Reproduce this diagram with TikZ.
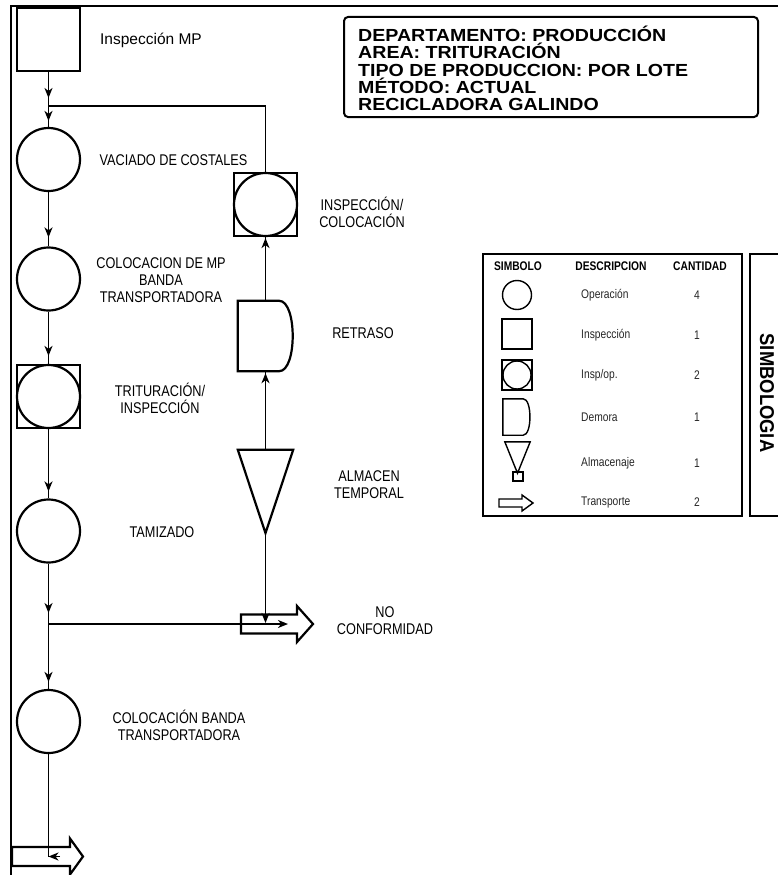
\documentclass[tikz,border=0pt]{standalone}
\usepackage{fontspec}
\setmainfont{Liberation Sans}
\newfontfamily\narrowfont[FakeStretch=0.82]{Liberation Sans}
\newfontfamily\hdrfont[FakeStretch=1.12]{Liberation Sans}
\newfontfamily\simbfont[FakeStretch=0.92]{Liberation Sans}
\usetikzlibrary{arrows.meta,decorations.markings,calc}
\begin{document}
\begin{tikzpicture}[x=1pt,y=-1pt,
  shp/.style={draw, line width=2.2pt, inner sep=0pt},
  opcirc/.style={shp, circle, minimum size=63pt},
  inspsq/.style={shp, rectangle, minimum size=63pt},
  ghost/.style={inner sep=0pt, rectangle},
  flow/.style={line width=1.7pt},
  tipend/.style={decoration={markings, mark=at position #1 with {\arrow{Stealth[length=10pt,width=8pt,inset=3pt]}}}, postaction={decorate}},
  endtip/.style={-{Stealth[length=10pt,width=8pt,inset=3pt]}},
  lbl/.style={font=\narrowfont\fontsize{15.5}{17}\selectfont, align=center, inner sep=0pt},
  lblr/.style={font=\fontsize{15.5}{17}\selectfont, inner sep=0pt},
  hdrtxt/.style={font=\hdrfont\bfseries\fontsize{17.5}{17}\selectfont, inner sep=0pt, anchor=base west},
  leghdr/.style={font=\narrowfont\bfseries\fontsize{12.5}{14}\selectfont, inner sep=0pt},
  legtxt/.style={font=\narrowfont\fontsize{12.5}{14}\selectfont, inner sep=0pt, text=black!85},
  legshp/.style={draw, line width=1.4pt, inner sep=0pt},
  legbox/.style={draw, line width=2pt, inner sep=0pt}
]
\useasboundingbox (0,0) rectangle (778,875);
% frame
\draw[line width=2pt] (11,876) -- (11,6) -- (779,6);

% main column
\node[inspsq] (insp) at (48.5,39.5) {};
\node[opcirc] (c1) at (48.5,159.5) {};
\node[opcirc] (c2) at (48.5,279) {};
\node[inspsq] (c3) at (48.5,396.5) {};
\node[opcirc] (c3i) at (48.5,396.5) {};
\node[opcirc] (c4) at (48.5,531) {};
\node[opcirc] (c5) at (48.5,721.5) {};

% right column
\node[inspsq] (c6) at (265.5,204.5) {};
\node[opcirc] (c6i) at (265.5,204.5) {};
\node[ghost, minimum width=55pt, minimum height=70pt] (ret) at (265.5,336) {};
\draw[shp] (ret.north west) -- ($(ret.north east)+(-14,0)$)
  .. controls ($(ret.north east)+(4,0)$) and ($(ret.south east)+(4,0)$) .. ($(ret.south east)+(-14,0)$)
  -- (ret.south west) -- cycle;
\node[ghost, minimum width=55pt, minimum height=83pt] (alm) at (265.5,491.5) {};
\draw[shp] (alm.north west) -- (alm.north east) -- (alm.south) -- cycle;

% transport arrows
\coordinate (nc) at (241,624);
\draw[shp] (nc) ++(0,-9.5) -- ++(56,0) -- ++(0,-8.5) -- ++(16,18) -- ++(-16,18) -- ++(0,-8.5) -- ++(-56,0) -- cycle;
\coordinate (ba) at (12,856.5);
\draw[shp] (ba) ++(0,-9.5) -- ++(58,0) -- ++(0,-8.5) -- ++(13,18) -- ++(-13,18) -- ++(0,-8.5) -- ++(-58,0) -- cycle;

% connectors
\coordinate (j1) at (48.5,106);
\coordinate (j2) at (48.5,624);
\coordinate (b1) at (48.5,856.5);
\coordinate (b2) at (60,856.5);
\coordinate (nct) at (288,624);
\coordinate (ncv) at (265.5,623);
\draw[flow, tipend=-8pt] (insp.south) -- (j1);
\draw[flow, tipend=-6pt] (j1) -- (c1.north);
\draw[flow] (c6.north) |- (j1);
\draw[flow, tipend=-9pt] (c1.south) -- (c2.north);
\draw[flow, tipend=-8pt] (c2.south) -- (c3.north);
\draw[flow, tipend=-7pt] (c3.south) -- (c4.north);
\draw[flow, tipend=-11pt] (c4.south) -- (j2);
\draw[flow, tipend=-7pt] (j2) -- (c5.north);
\draw[flow] (c5.south) -- (b1);
\draw[flow, endtip] (b2) -- (b1);
\draw[flow, endtip] (j2) -- (nct);
\draw[flow, endtip] (alm.south) -- (ncv);
\draw[flow, tipend=-2pt] (alm.north) -- (ret.south);
\draw[flow, tipend=-1pt] (ret.north) -- (c6.south);

% labels
\node[lblr] (tinsp) at (151,40) {Inspección MP};
\node[lbl] (t1) at (173.5,160) {VACIADO DE COSTALES};
\node[lbl] (t2) at (161,280) {COLOCACION DE MP\\BANDA\\TRANSPORTADORA};
\node[lbl] (t3) at (160,398) {TRITURACIÓN/\\INSPECCIÓN};
\node[lbl] (t4) at (162,532) {TAMIZADO};
\node[lbl] (t5) at (179,725) {COLOCACIÓN BANDA\\TRANSPORTADORA};
\node[lbl] (t6) at (362,212) {INSPECCIÓN/\\COLOCACIÓN};
\node[lbl] (t7) at (363,333) {RETRASO};
\node[lbl] (t8) at (369,485) {ALMACEN\\TEMPORAL};
\node[lbl] (t9) at (385,621) {NO\\CONFORMIDAD};

% header box
\node[draw, line width=2pt, rounded corners=4pt, minimum width=414pt, minimum height=100pt, inner sep=0pt] (hdr) at (551,67) {};
\node[hdrtxt] (h1) at (358,42) {DEPARTAMENTO: PRODUCCIÓN};
\node[hdrtxt] (h2) at (358,59) {AREA: TRITURACIÓN};
\node[hdrtxt] (h3) at (358,76) {TIPO DE PRODUCCION: POR LOTE};
\node[hdrtxt] (h4) at (358,93) {MÉTODO: ACTUAL};
\node[hdrtxt] (h5) at (358,110) {RECICLADORA GALINDO};

% legend
\node[legbox, minimum width=259pt, minimum height=262pt] (leg) at (612.5,385) {};
\node[legbox, minimum width=51pt, minimum height=262pt] (simb) at (775.5,385) {};
\node[font=\simbfont\bfseries\fontsize{20}{22}\selectfont, rotate=-90, inner sep=0pt] (simbt) at (767,393) {SIMBOLOGIA};

\node[leghdr] (lh1) at (518,266) {SIMBOLO};
\node[leghdr] (lh2) at (611,266) {DESCRIPCION};
\node[leghdr] (lh3) at (700,266) {CANTIDAD};

\node[legshp, circle, minimum size=29pt] (lg1) at (517,295) {};
\node[legshp, rectangle, minimum size=30pt] (lg2) at (517,334) {};
\node[legshp, rectangle, minimum size=30pt] (lg3) at (517,375) {};
\node[legshp, circle, minimum size=28pt] (lg3i) at (517,375) {};
\node[ghost, minimum width=27pt, minimum height=36pt] (lg4) at (516.5,417) {};
\draw[legshp] (lg4.north west) -- ($(lg4.north east)+(-7,0)$)
  .. controls ($(lg4.north east)+(2,0)$) and ($(lg4.south east)+(2,0)$) .. ($(lg4.south east)+(-7,0)$)
  -- (lg4.south west) -- cycle;
\node[ghost, minimum width=25pt, minimum height=31pt] (lg5) at (517.5,457.5) {};
\draw[legshp] (lg5.north west) -- (lg5.north east) -- (lg5.south) -- cycle;
\node[legshp, rectangle, minimum width=10pt, minimum height=9pt] (lg5b) at (518,476.5) {};
\coordinate (la) at (499,503);
\draw[legshp] (la) ++(0,-4) -- ++(23,0) -- ++(0,-4) -- ++(11,8) -- ++(-11,8) -- ++(0,-4) -- ++(-23,0) -- cycle;

\node[legtxt, anchor=west] (d1) at (581,295) {Operación};
\node[legtxt, anchor=west] (d2) at (581,335) {Inspección};
\node[legtxt, anchor=west] (d3) at (581,375) {Insp/op.};
\node[legtxt, anchor=west] (d4) at (581,417) {Demora};
\node[legtxt, anchor=west] (d5) at (581,463) {Almacenaje};
\node[legtxt, anchor=west] (d6) at (581,502) {Transporte};
\node[legtxt] (n1) at (697,295) {4};
\node[legtxt] (n2) at (697,335) {1};
\node[legtxt] (n3) at (697,375) {2};
\node[legtxt] (n4) at (697,417) {1};
\node[legtxt] (n5) at (697,463) {1};
\node[legtxt] (n6) at (697,502) {2};
\end{tikzpicture}
\end{document}
